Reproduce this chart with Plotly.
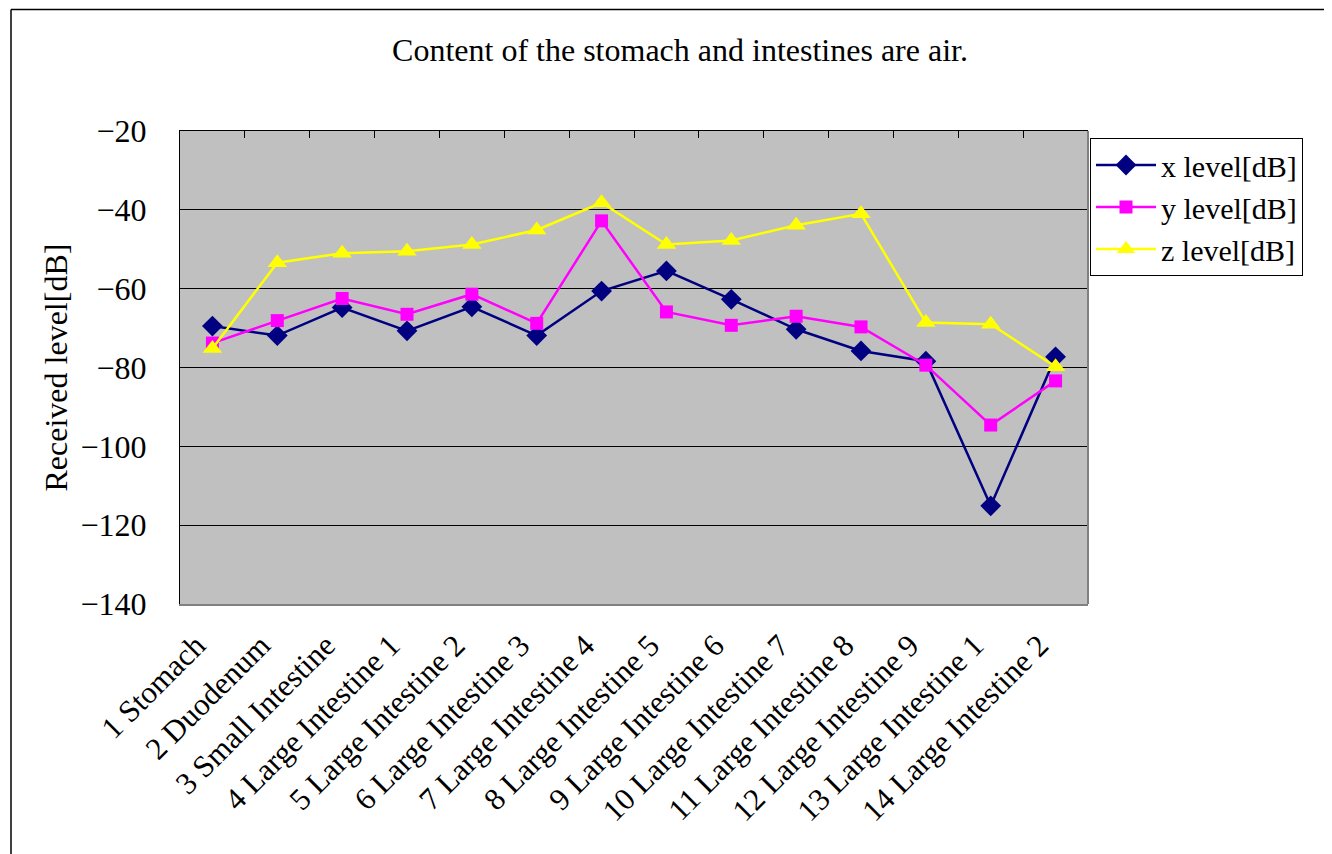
import plotly.graph_objects as go

categories = [
    "1 Stomach", "2 Duodenum", "3 Small Intestine",
    "4 Large Intestine 1", "5 Large Intestine 2", "6 Large Intestine 3",
    "7 Large Intestine 4", "8 Large Intestine 5", "9 Large Intestine 6",
    "10 Large Intestine 7", "11 Large Intestine 8", "12 Large Intestine 9",
    "13 Large Intestine 1", "14 Large Intestine 2",
]
x_level = [-69.5, -71.9, -64.8, -70.7, -64.6, -71.9, -60.6,
           -55.5, -62.7, -70.3, -75.8, -78.4, -115.1, -77.3]
y_level = [-73.8, -68.1, -62.5, -66.5, -61.4, -68.8, -42.8,
           -65.9, -69.3, -67.0, -69.7, -79.4, -94.6, -83.4]
z_level = [-75.2, -53.4, -51.0, -50.5, -48.8, -45.1, -38.2,
           -48.8, -47.8, -43.9, -41.0, -68.6, -69.0, -79.8]
y_ticks = [-140, -120, -100, -80, -60, -40, -20]

idx = list(range(len(categories)))
FONT = "Liberation Serif, Times New Roman, serif"
OFF = 8  # page body margin offset
LBL_SHIFT = 0.25  # label anchor shift (in categories) to mimic rotated-label placement

fig = go.Figure()
series = [
    ("x level[dB]", x_level, "#000080", "diamond", 16),
    ("y level[dB]", y_level, "#FF00FF", "square", 13),
    ("z level[dB]", z_level, "#FFFF00", "triangle-up", 17),
]
for name, vals, col, sym, sz in series:
    fig.add_trace(go.Scatter(
        x=idx, y=vals, name=name, mode="lines+markers",
        line=dict(color=col, width=2.5),
        marker=dict(symbol=sym, size=sz, color=col, line=dict(width=0)),
    ))
# invisible traces to activate the top axis and the label axis
for ax in ("x2", "x3"):
    fig.add_trace(go.Scatter(x=idx, y=x_level, xaxis=ax, mode="markers",
                             marker=dict(opacity=0), showlegend=False,
                             hoverinfo="skip"))

n = len(categories)
fig.update_layout(
    width=1332, height=854,
    margin=dict(l=180 - OFF, r=244 + OFF, t=131 - OFF, b=250 + OFF),
    paper_bgcolor="white", plot_bgcolor="#C0C0C0",
    font=dict(family=FONT, size=32, color="black"),
    title=dict(text="Content of the stomach and intestines are air.",
               x=(680 - OFF) / 1332, xref="container", xanchor="center",
               y=1 - (50 - OFF) / 854, yref="container", yanchor="middle",
               font=dict(family=FONT, size=32, color="black")),
    xaxis=dict(range=[-0.5, n - 0.5], tickmode="array",
               tickvals=idx, showticklabels=False,
               ticks="", showgrid=False, zeroline=False,
               showline=True, linecolor="#808080", linewidth=2),
    xaxis3=dict(overlaying="x", side="bottom", anchor="y",
                range=[-0.5 + LBL_SHIFT, n - 0.5 + LBL_SHIFT],
                tickmode="array", tickvals=idx, ticktext=categories,
                tickangle=-45, ticks="", showgrid=False, zeroline=False,
                showline=False, ticklabelstandoff=16,
                tickfont=dict(family=FONT, size=31)),
    xaxis2=dict(overlaying="x", matches="x", side="top", anchor="y",
                tickmode="array", tickvals=[i + 0.5 for i in idx[:-1]],
                ticks="inside", ticklen=7, tickcolor="black", tickwidth=1,
                showticklabels=False, showgrid=False, zeroline=False,
                showline=True, linecolor="black", linewidth=1),
    yaxis=dict(range=[-140, -20], tickmode="array", tickvals=y_ticks,
               showgrid=True, gridcolor="black", gridwidth=1,
               zeroline=False, showline=True, linecolor="black", linewidth=1,
               ticks="", ticklabelstandoff=26,
               tickfont=dict(family=FONT, size=32)),
    legend=dict(x=(1090 - 180) / 908, y=(604 - 138) / 473,
                xanchor="left", yanchor="top",
                bgcolor="white", bordercolor="black", borderwidth=1,
                font=dict(family=FONT, size=30), itemwidth=60),
    showlegend=True,
)

fig.add_annotation(text="Received level[dB]", textangle=-90,
                   xref="paper", yref="paper",
                   x=(55 - 180) / 908, y=0.5, showarrow=False,
                   xanchor="center", yanchor="middle",
                   font=dict(family=FONT, size=32))

# right grey plot-area border, outer chart frame
fig.add_shape(type="line", xref="paper", yref="paper", x0=1, x1=1, y0=0, y1=1,
              line=dict(color="#808080", width=2))
fx = (11 - 180) / 908
fy = (604 - 9.5) / 473
fig.add_shape(type="line", xref="paper", yref="paper", x0=fx, x1=fx, y0=fy, y1=-2,
              line=dict(color="black", width=1.5))
fig.add_shape(type="line", xref="paper", yref="paper", x0=fx, x1=3, y0=fy, y1=fy,
              line=dict(color="black", width=1.5))

fig.write_html("out.html")
